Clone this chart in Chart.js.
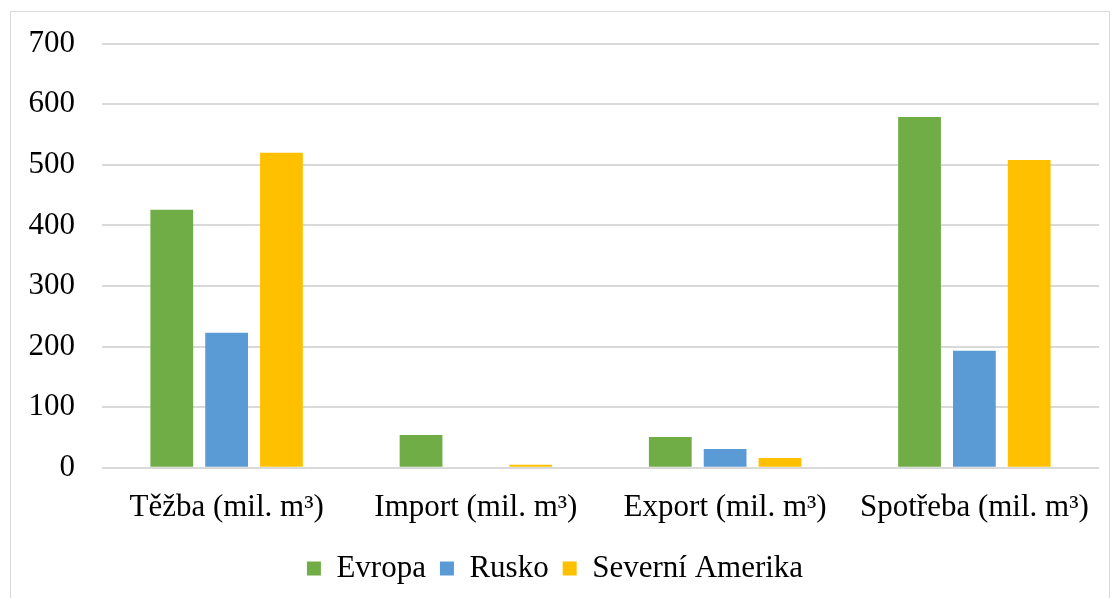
<!DOCTYPE html>
<html>
<head>
<meta charset="utf-8">
<script src="https://cdn.jsdelivr.net/npm/chart.js@4"></script>
<style>
  html, body { margin: 0; padding: 0; background: #fff; overflow: hidden; }
  #frame {
    position: absolute; left: 10px; top: 11px;
    width: 1100px; height: 600px;
    border: 1px solid #d9d9d9; box-sizing: border-box;
  }
  #wrap { position: absolute; left: 0; top: -14px; width: 1098px; height: 617px; }
</style>
</head>
<body>
<div id="frame"><div id="wrap"><canvas id="gasChart"></canvas></div></div>
<script>
// categories + series
var categories = ["Těžba (mil. m³)", "Import (mil. m³)", "Export (mil. m³)", "Spotřeba (mil. m³)"];
var evropa = [426, 54, 51, 579];
var rusko = [223, 0, 31, 193];
var severniAmerika = [520, 5, 16, 508];
var yTicks = [0, 100, 200, 300, 400, 500, 600, 700];

var serif = "'Liberation Serif', 'Times New Roman', serif";

var gasCanvas = document.getElementById("gasChart");

var gasData = {
  labels: categories,
  datasets: [
    { label: "Evropa", data: evropa, backgroundColor: "#70ad47" },
    { label: "Rusko", data: rusko, backgroundColor: "#5b9bd5" },
    { label: "Severní Amerika", data: severniAmerika, backgroundColor: "#ffc000" },
  ],
};

var gasOptions = {
  responsive: true,
  maintainAspectRatio: false,
  animation: false,
  categoryPercentage: 0.66,
  barPercentage: 0.78,
  layout: {
    padding: { left: 0, right: 10, top: 1, bottom: 21 },
  },
  plugins: {
    legend: {
      position: "bottom",
      labels: {
        font: { family: serif, size: 31 },
        color: "#000",
        boxWidth: 14,
        boxHeight: 14,
        padding: 14,
      },
    },
    tooltip: { enabled: false },
  },
  scales: {
    x: {
      grid: { display: false },
      border: { display: false },
      ticks: {
        font: { family: serif, size: 31 },
        color: "#000",
        maxRotation: 0,
        autoSkip: false,
        padding: 13,
      },
    },
    y: {
      min: 0,
      max: 700,
      afterFit: function (axis) { axis.width = 91; },
      afterBuildTicks: function (axis) {
        axis.ticks = yTicks.map(function (v) { return { value: v }; });
      },
      grid: { color: "#d9d9d9", lineWidth: 2, drawTicks: false },
      border: { display: false },
      ticks: {
        font: { family: serif, size: 31 },
        color: "#000",
        padding: 27,
      },
    },
  },
};

new Chart(gasCanvas, {
  type: "bar",
  data: gasData,
  options: gasOptions,
});
</script>
</body>
</html>
